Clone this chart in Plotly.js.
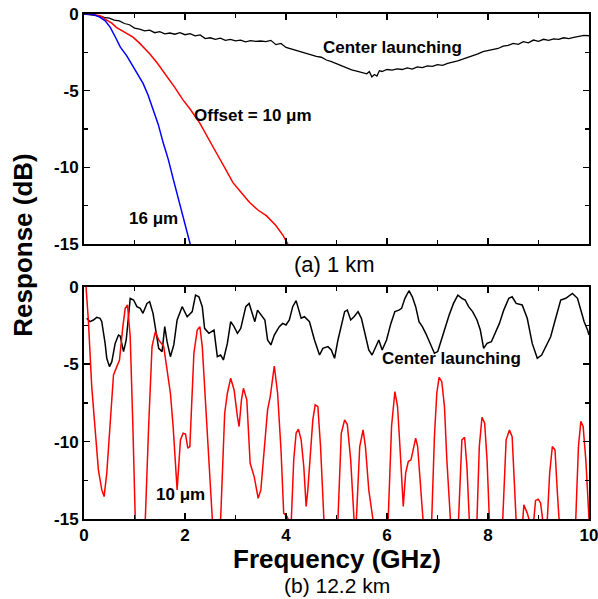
<!DOCTYPE html>
<html>
<head>
<meta charset="utf-8">
<script src="https://cdn.plot.ly/plotly-3.0.1.min.js"></script>
<style>html,body{margin:0;padding:0;background:#fff;}#chart{width:598px;height:599px;}</style>
</head>
<body>
<div id="chart"></div>
<script>
// ---------- Data (a) 1 km ----------
const aCenterX = [0,0.1,0.2,0.3,0.4,0.5,0.6,0.7,0.8,0.9,1.0,1.1,1.2,1.3,1.4,1.5,1.6,1.7,1.8,1.9,2.0,2.1,2.2,2.3,2.4,2.5,2.6,2.7,2.8,2.9,3.0,3.1,3.2,3.3,3.4,3.5,3.6,3.7,3.8,3.9,4.0,4.1,4.2,4.3,4.4,4.5,4.6,4.7,4.8,4.9,5.0,5.1,5.2,5.3,5.4,5.5,5.6,5.65,5.7,5.75,5.8,5.85,5.9,6.0,6.1,6.2,6.3,6.4,6.5,6.6,6.7,6.8,6.9,7.0,7.1,7.2,7.3,7.4,7.5,7.6,7.7,7.8,7.9,8.0,8.1,8.2,8.3,8.4,8.5,8.6,8.7,8.8,8.9,9.0,9.1,9.2,9.3,9.4,9.5,9.6,9.7,9.8,9.9,10.0];
const aCenterY = [0,-0.03,-0.1,-0.12,-0.22,-0.27,-0.4,-0.45,-0.62,-0.7,-0.92,-0.98,-1.1,-1.05,-1.22,-1.15,-1.3,-1.24,-1.32,-1.22,-1.35,-1.28,-1.42,-1.36,-1.6,-1.55,-1.65,-1.58,-1.72,-1.66,-1.75,-1.7,-1.82,-1.74,-1.78,-1.76,-1.8,-1.72,-2.0,-1.92,-2.18,-2.28,-2.4,-2.5,-2.58,-2.7,-2.76,-2.82,-3.0,-3.1,-3.25,-3.38,-3.55,-3.65,-3.72,-3.8,-3.9,-3.75,-4.1,-3.95,-4.05,-3.7,-3.75,-3.62,-3.66,-3.58,-3.62,-3.52,-3.6,-3.45,-3.5,-3.38,-3.42,-3.3,-3.35,-3.22,-3.15,-3.05,-2.95,-2.85,-2.72,-2.6,-2.45,-2.38,-2.3,-2.25,-2.1,-2.05,-1.92,-1.98,-1.8,-1.88,-1.7,-1.78,-1.65,-1.72,-1.62,-1.66,-1.55,-1.6,-1.52,-1.48,-1.4,-1.42];

const aOffset10X = [0,0.1,0.2,0.32,0.45,0.55,0.64,0.8,0.97,1.1,1.3,1.45,1.63,1.8,1.96,2.1,2.29,2.45,2.62,2.8,2.95,3.1,3.28,3.45,3.61,3.8,3.94,4.07];
const aOffset10Y = [0,0,-0.05,-0.11,-0.4,-0.6,-0.87,-1.2,-1.51,-1.9,-2.59,-3.2,-3.99,-4.8,-5.6,-6.2,-7.1,-8.0,-9.05,-10.1,-11.0,-11.6,-12.3,-12.8,-13.15,-13.8,-14.44,-15.2];

const aOffset16X = [0,0.1,0.2,0.32,0.42,0.52,0.62,0.72,0.85,0.97,1.07,1.17,1.27,1.37,1.47,1.57,1.67,1.77,1.85,1.94,2.02,2.1,2.15];
const aOffset16Y = [0,0,-0.05,-0.22,-0.45,-0.87,-1.5,-2.16,-2.75,-3.45,-3.95,-4.53,-5.3,-6.25,-7.2,-8.42,-9.5,-10.8,-11.8,-12.9,-13.9,-15.0,-15.6];

// ---------- Data (b) 12.2 km ----------
const bCenterX = [0.053,0.119,0.186,0.252,0.318,0.352,0.418,0.451,0.504,0.551,0.617,0.683,0.716,0.783,0.836,0.915,0.982,1.048,1.114,1.167,1.247,1.300,1.367,1.420,1.479,1.546,1.599,1.645,1.711,1.778,1.844,1.944,2.043,2.143,2.209,2.275,2.342,2.388,2.474,2.574,2.640,2.706,2.760,2.839,2.905,2.972,3.038,3.104,3.204,3.270,3.337,3.383,3.436,3.516,3.582,3.635,3.701,3.768,3.867,3.934,4.000,4.066,4.133,4.2,4.265,4.3,4.365,4.465,4.564,4.664,4.73,4.83,4.896,4.962,5.029,5.095,5.161,5.214,5.281,5.347,5.427,5.493,5.559,5.639,5.705,5.772,5.838,5.904,5.991,6.077,6.156,6.236,6.289,6.355,6.435,6.501,6.568,6.634,6.700,6.767,6.853,6.939,7.005,7.085,7.151,7.231,7.317,7.403,7.483,7.549,7.616,7.695,7.782,7.848,7.914,7.981,8.067,8.146,8.226,8.312,8.412,8.478,8.558,8.677,8.777,8.876,8.976,9.062,9.141,9.241,9.340,9.440,9.540,9.672,9.772,9.838,9.904,9.971,10.0];
const bCenterY = [-2.04,-2.26,-2.15,-1.98,-2.04,-2.26,-3.66,-4.62,-5.16,-4.84,-3.66,-3.12,-3.18,-4.19,-3.44,-0.75,-0.86,-1.29,-1.40,-1.72,-1.08,-0.97,-1.72,-2.90,-3.98,-4.19,-2.58,-3.55,-4.52,-3.76,-2.15,-1.29,-1.94,-1.61,-0.54,-0.65,-1.29,-2.69,-3.01,-2.80,-4.52,-4.41,-4.73,-3.66,-2.26,-2.58,-3.01,-2.69,-1.29,-1.08,-1.72,-2.26,-1.51,-1.83,-2.15,-3.44,-3.76,-3.12,-2.58,-2.37,-2.47,-2.15,-1.29,-0.9,-1.72,-2.04,-1.94,-2.26,-3.44,-4.41,-3.98,-3.87,-4.09,-4.62,-3.44,-2.47,-1.61,-1.51,-2.15,-1.94,-1.61,-2.04,-3.01,-4.09,-4.41,-3.87,-3.44,-4.09,-3.44,-2.37,-1.61,-1.51,-1.40,-0.75,-0.26,-0.65,-1.29,-2.26,-2.58,-3.01,-3.66,-4.30,-4.19,-3.33,-2.58,-1.83,-1.08,-0.54,-0.75,-0.86,-1.29,-1.61,-2.15,-2.80,-3.98,-3.66,-3.55,-2.90,-2.37,-1.51,-0.75,-0.65,-1.08,-1.18,-2.04,-3.66,-4.62,-4.41,-3.87,-3.23,-2.04,-0.86,-0.75,-0.43,-0.75,-1.51,-2.26,-2.80,-3.12];

const bOffset10X = [0.04,0.086,0.153,0.219,0.285,0.352,0.398,0.451,0.517,0.584,0.650,0.703,0.769,0.816,0.862,0.915,0.968,1.015,1.1,1.214,1.280,1.347,1.413,1.479,1.579,1.645,1.711,1.765,1.811,1.844,1.910,1.963,2.010,2.056,2.096,2.123,2.176,2.242,2.295,2.342,2.408,2.474,2.541,2.62,2.706,2.786,2.839,2.905,2.972,3.038,3.071,3.118,3.157,3.224,3.290,3.370,3.449,3.502,3.569,3.635,3.688,3.768,3.834,3.901,3.954,4.020,4.066,4.1,4.153,4.2,4.246,4.3,4.352,4.399,4.432,4.485,4.531,4.578,4.631,4.684,4.73,4.75,4.85,5.029,5.095,5.161,5.214,5.281,5.347,5.37,5.394,5.46,5.526,5.573,5.639,5.725,5.85,6.024,6.09,6.156,6.209,6.256,6.322,6.369,6.422,6.475,6.521,6.568,6.607,6.654,6.687,6.78,6.886,6.939,6.986,7.032,7.085,7.138,7.185,7.231,7.31,7.417,7.483,7.536,7.583,7.629,7.7,7.782,7.828,7.881,7.934,7.981,8.027,8.15,8.292,8.359,8.425,8.478,8.531,8.6,8.69,8.71,8.777,8.81,8.85,8.909,8.942,8.995,9.042,9.088,9.12,9.175,9.221,9.274,9.327,9.374,9.407,9.6,9.738,9.791,9.838,9.884,9.937,10.0];
const bOffset10Y = [0,-2.15,-6.45,-9.46,-11.83,-13.12,-13.55,-12.04,-9.03,-5.70,-5.16,-4.73,-2.58,-1.40,-1.18,-3.23,-9.03,-15,-18,-15,-9.03,-3.87,-2.90,-3.44,-3.87,-5.38,-6.88,-9.03,-11.18,-13.12,-9.89,-9.46,-9.52,-10.43,-10.32,-8.17,-4.30,-2.80,-2.58,-3.87,-7.31,-11.18,-15,-18,-15,-8.17,-6.88,-5.91,-6.67,-8.39,-9.03,-7.31,-6.56,-7.31,-11.40,-12.26,-13.66,-13.12,-10.32,-7.96,-7.10,-5.12,-6.88,-10.54,-14.62,-14.84,-15.2,-15.5,-11.18,-9.46,-9.2,-9.89,-11.61,-14.19,-13.12,-10.32,-8.6,-7.63,-7.74,-10.32,-13.33,-15,-18,-15,-9.46,-8.6,-8.9,-11.18,-15,-16,-15,-10.32,-9.25,-10.32,-13.12,-15,-18,-15,-9.03,-6.77,-7.74,-10.32,-14.19,-12.04,-11.29,-11.18,-10.54,-9.78,-10.32,-12.9,-15,-18,-15,-9.68,-6.88,-5.85,-6.13,-7.74,-11.18,-15,-18,-15,-9.89,-9.72,-11.61,-15,-18,-15,-10.32,-8.43,-8.82,-11.18,-15,-18,-15,-9.89,-9.25,-9.68,-15,-18,-15,-14.09,-14.62,-15,-16,-15,-13.8,-13.72,-13.98,-15,-16,-15,-12.04,-10.32,-10.54,-13.33,-15,-18,-15,-10.32,-8.7,-9.03,-11.18,-15];

// ---------- Ticks ----------
const xTickVals = [0,2,4,6,8,10];
const xTickText = ['0','2','4','6','8','10'];
const yTickVals = [-15,-10,-5,0];
const yTickText = ['-15','-10','-5','0'];

const FONT = 'Arial, "Liberation Sans", sans-serif';
const tickFont = {family: FONT, size: 17, color: '#000', weight: 'bold'};

function axisBase() {
  return {
    showline: true, linecolor: '#000', linewidth: 2, mirror: 'ticks',
    ticks: 'inside', ticklen: 6, tickwidth: 1.5, tickcolor: '#000',
    showgrid: false, zeroline: false, tickfont: tickFont,
    ticklabeloverflow: 'allow', automargin: false
  };
}
const minorX = {dtick: 1, tick0: 0, ticks: 'inside', ticklen: 4, tickwidth: 1.5, tickcolor: '#000'};
const minorY = {dtick: 2.5, tick0: 0, ticks: 'inside', ticklen: 4, tickwidth: 1.5, tickcolor: '#000'};

const xa1 = Object.assign(axisBase(), {
  domain: [0, 1], range: [0, 10], anchor: 'y', tickmode: 'array',
  tickvals: xTickVals, ticktext: xTickText, showticklabels: false, minor: minorX
});
const ya1 = Object.assign(axisBase(), {
  domain: [0.5446, 1], range: [-15, 0], anchor: 'x', tickmode: 'array',
  tickvals: yTickVals, ticktext: yTickText, minor: minorY
});
const xa2 = Object.assign(axisBase(), {
  domain: [0, 1], range: [0, 10], anchor: 'y2', tickmode: 'array',
  tickvals: xTickVals, ticktext: xTickText, minor: minorX
});
const ya2 = Object.assign(axisBase(), {
  domain: [0, 0.46], range: [-15, 0], anchor: 'x2', tickmode: 'array',
  tickvals: yTickVals, ticktext: yTickText, minor: minorY
});

const traces = [
  {x: aCenterX, y: aCenterY, xaxis: 'x', yaxis: 'y', mode: 'lines', line: {color: '#000', width: 1.3}, name: 'Center launching'},
  {x: aOffset10X, y: aOffset10Y, xaxis: 'x', yaxis: 'y', mode: 'lines', line: {color: '#ff0000', width: 1.5}, name: 'Offset = 10 μm'},
  {x: aOffset16X, y: aOffset16Y, xaxis: 'x', yaxis: 'y', mode: 'lines', line: {color: '#0000ff', width: 1.5}, name: '16 μm'},
  {x: bCenterX, y: bCenterY, xaxis: 'x2', yaxis: 'y2', mode: 'lines', line: {color: '#000', width: 1.5}, name: 'Center launching'},
  {x: bOffset10X, y: bOffset10Y, xaxis: 'x2', yaxis: 'y2', mode: 'lines', line: {color: '#ff0000', width: 1.5}, name: '10 μm'}
];

const lblFont = {family: FONT, size: 17, color: '#000', weight: 'bold'};
function ann(o) { return Object.assign({showarrow: false, xanchor: 'center', yanchor: 'middle', borderpad: 0}, o); }
const annotations = [
  ann({text: 'Center launching', x: 6.11, y: -2.2, xref: 'x', yref: 'y', font: lblFont}),
  ann({text: 'Offset = 10 μm', x: 3.34, y: -6.65, xref: 'x', yref: 'y', font: lblFont}),
  ann({text: '16 μm', x: 1.37, y: -13.35, xref: 'x', yref: 'y', font: lblFont}),
  ann({text: 'Center launching', x: 7.28, y: -4.66, xref: 'x2', yref: 'y2', font: lblFont}),
  ann({text: '10 μm', x: 1.92, y: -13.43, xref: 'x2', yref: 'y2', font: lblFont}),
  ann({text: 'Response (dB)', x: -0.121, y: 0.543, xref: 'paper', yref: 'paper', textangle: -90,
   font: {family: FONT, size: 26, color: '#000', weight: 'bold'}}),
  ann({text: 'Frequency (GHz)', x: 0.5, y: -0.08, xref: 'paper', yref: 'paper',
   font: {family: FONT, size: 26, color: '#000', weight: 'bold'}}),
  ann({text: '(a) 1 km', x: 0.497, y: 0.503, xref: 'paper', yref: 'paper',
   font: {family: FONT, size: 22, color: '#000'}}),
  ann({text: '(b) 12.2 km', x: 0.5, y: -0.131, xref: 'paper', yref: 'paper',
   font: {family: FONT, size: 21, color: '#000'}})
];

const layout = {
  width: 598, height: 599,
  margin: {l: 84, r: 9, t: 14, b: 80},
  paper_bgcolor: '#fff', plot_bgcolor: '#fff',
  showlegend: false,
  xaxis: xa1, yaxis: ya1, xaxis2: xa2, yaxis2: ya2,
  annotations: annotations
};

Plotly.newPlot('chart', traces, layout, {staticPlot: true, displayModeBar: false});
</script>
</body>
</html>
